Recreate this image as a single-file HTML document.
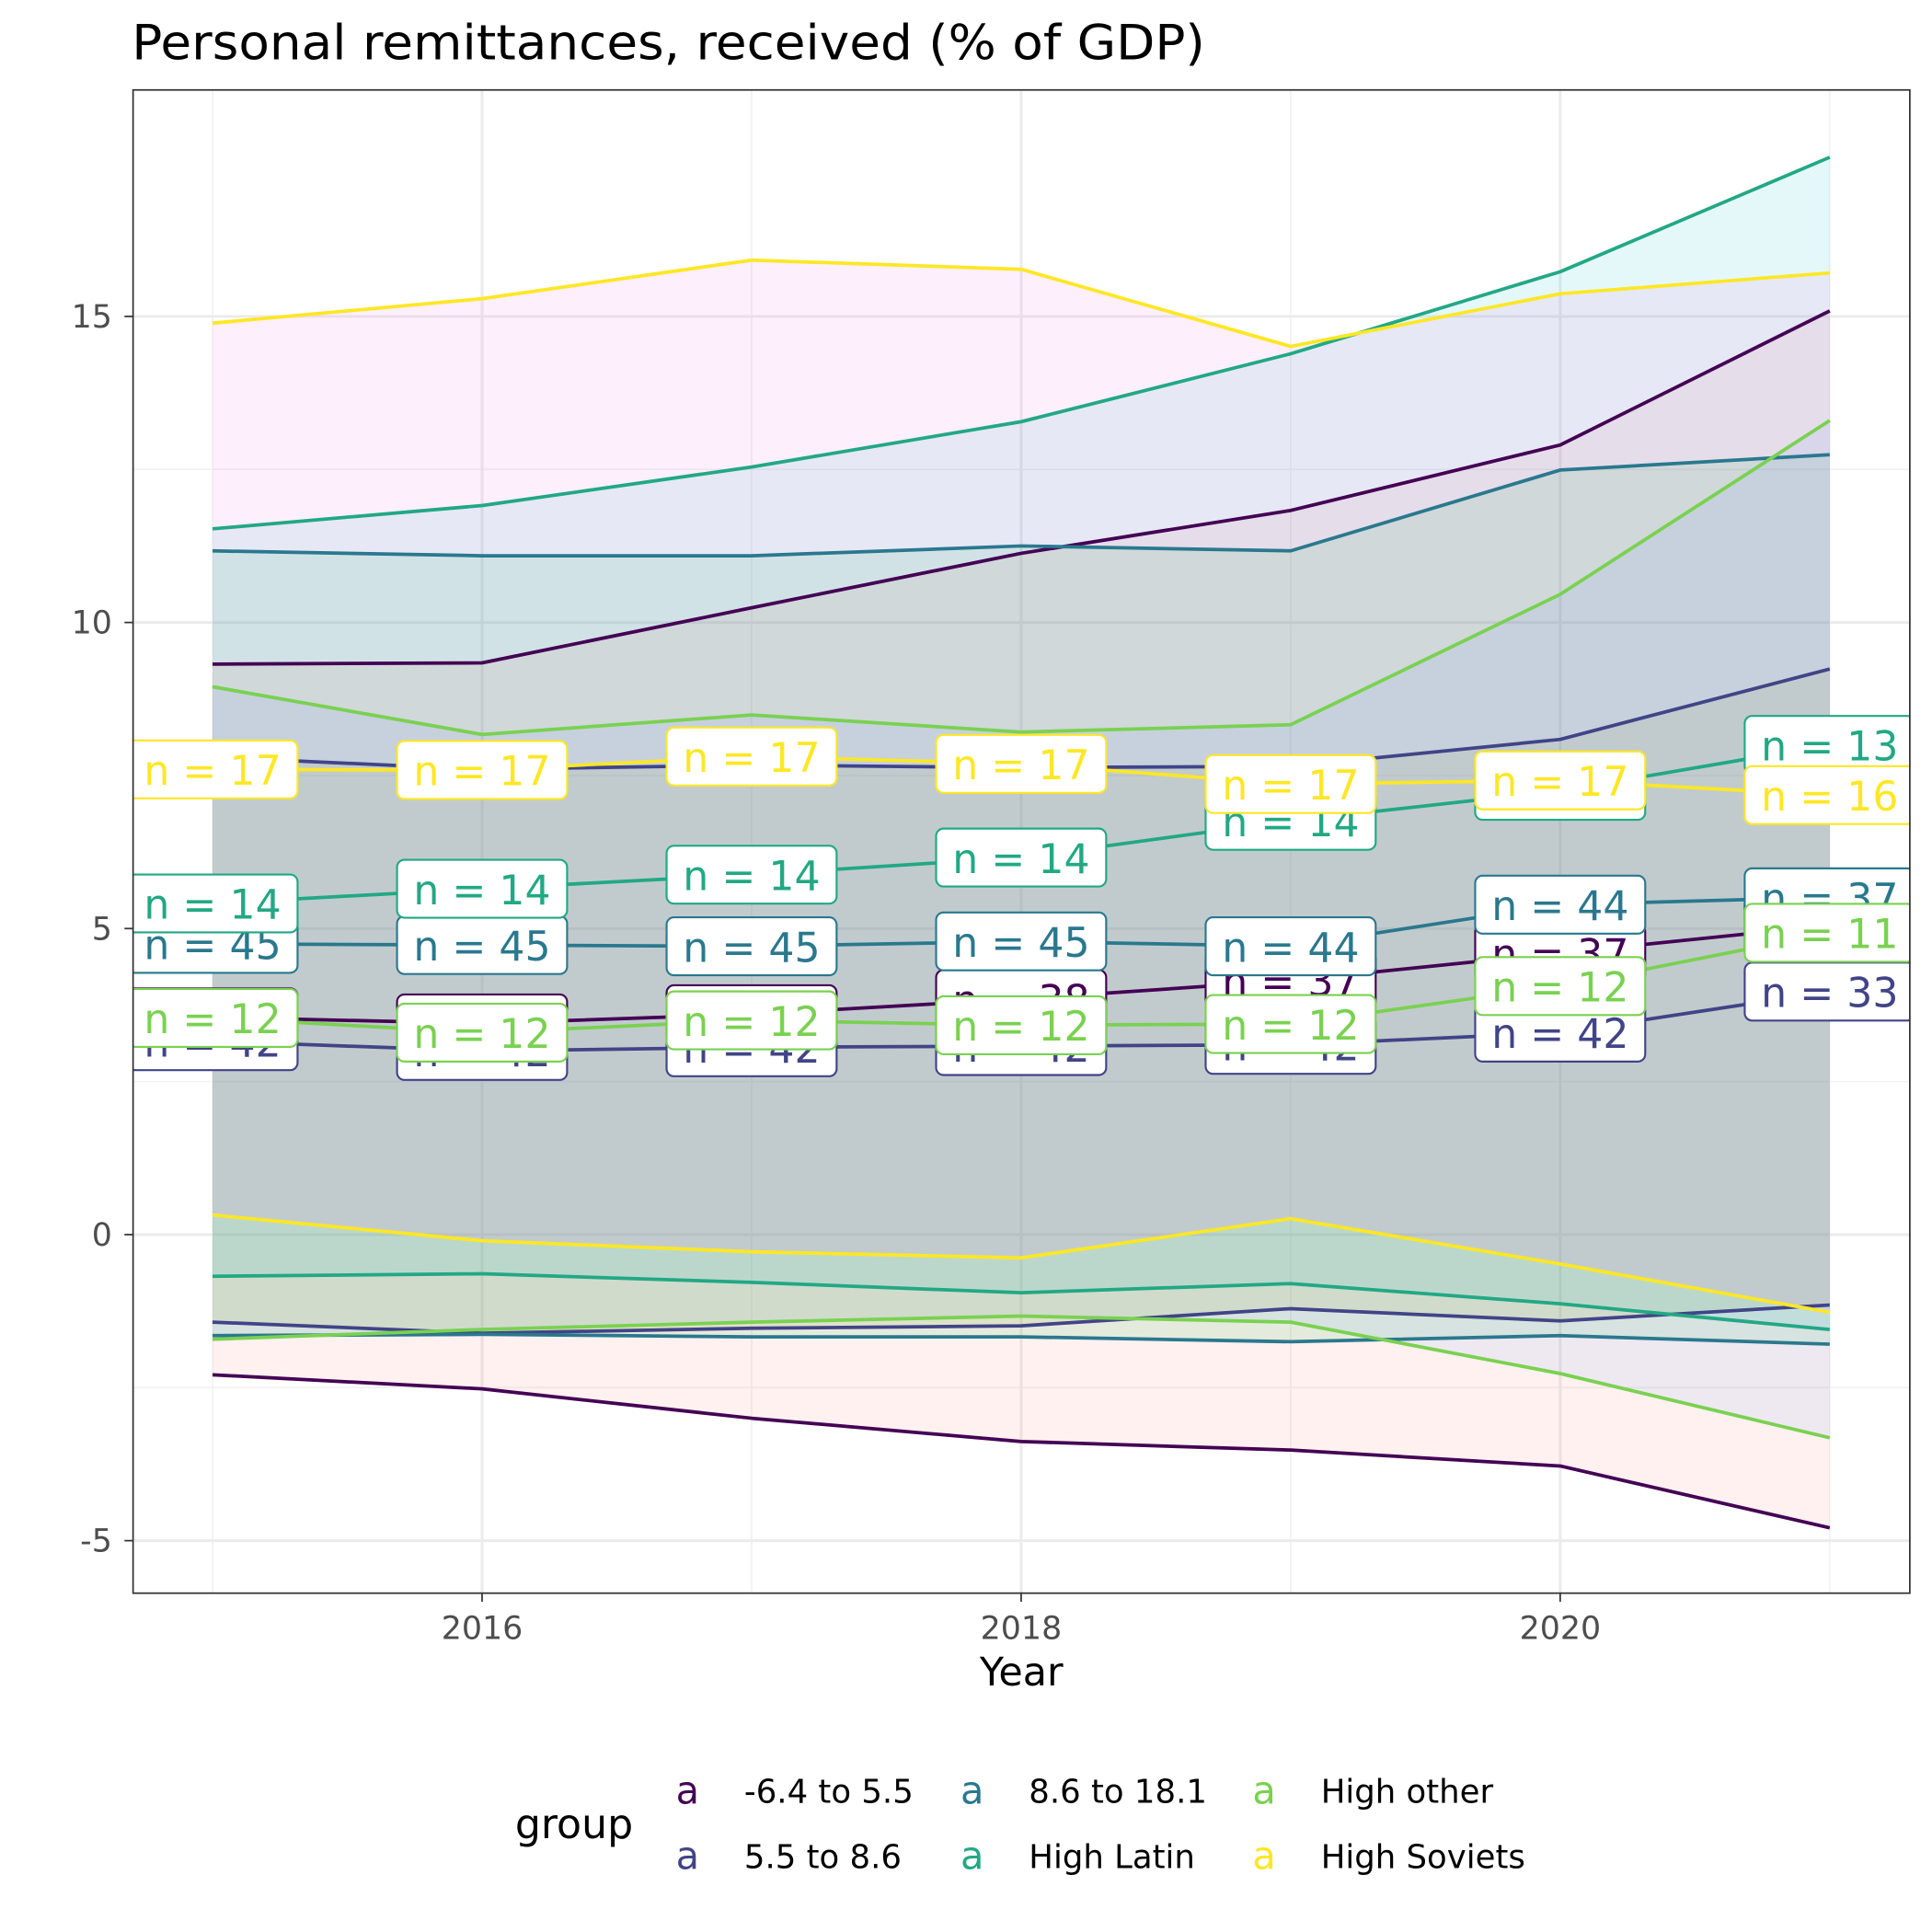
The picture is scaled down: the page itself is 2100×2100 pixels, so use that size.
<!DOCTYPE html>
<html><head><meta charset="utf-8"><style>
html,body{margin:0;padding:0;background:#fff}
svg{display:block;font-family:"DejaVu Sans","Liberation Sans",sans-serif}
</style></head><body>
<svg id="chart" width="2100" height="2100" viewBox="0 0 1568 1568" xmlns="http://www.w3.org/2000/svg">
<defs><clipPath id="pclip"><rect x="108" y="73" width="1442" height="1220"/></clipPath></defs>
<rect width="1568" height="1568" fill="#fff"/>
<text x="107" y="48" font-size="39" textLength="871" lengthAdjust="spacingAndGlyphs" fill="#000">Personal remittances, received (% of GDP)</text>
<g id="grid"></g>
<g id="plot" clip-path="url(#pclip)"></g>
<rect x="108" y="73" width="1442" height="1220" fill="none" stroke="#333" stroke-width="1.3"/>
<g id="axes"></g>
<text x="829" y="1368" font-size="32" text-anchor="middle" fill="#000">Year</text>
<g id="legend">
<text x="418" y="1492" font-size="33" fill="#000">group</text>
</g>
</svg>
<script>
const years = [2015, 2016, 2017, 2018, 2019, 2020, 2021];
const groups = ["-6.4 to 5.5", "5.5 to 8.6", "8.6 to 18.1", "High Latin", "High other", "High Soviets"];
const lineColors = ["#440154", "#414487", "#2A788E", "#22A884", "#7AD151", "#FDE725"];
const fillColors = ["#F8766D", "#B79F00", "#00BA38", "#00BFC4", "#619CFF", "#F564E3"];
const upperG1 = [9.32, 9.34, 10.24, 11.13, 11.83, 12.9, 15.09];
const upperG2 = [7.8, 7.6, 7.67, 7.63, 7.65, 8.09, 9.24];
const upperG3 = [11.17, 11.09, 11.09, 11.25, 11.17, 12.49, 12.74];
const upperLatin = [11.53, 11.91, 12.54, 13.28, 14.39, 15.73, 17.6];
const upperOther = [8.95, 8.17, 8.49, 8.21, 8.33, 10.46, 13.3];
const upperSoviets = [14.89, 15.29, 15.92, 15.77, 14.51, 15.37, 15.71];
const medianG1 = [3.55, 3.45, 3.6, 3.85, 4.15, 4.6, 5.05];
const medianG2 = [3.16, 3.0, 3.06, 3.08, 3.1, 3.3, 3.97];
const medianG3 = [4.75, 4.73, 4.71, 4.79, 4.71, 5.39, 5.51];
const medianLatin = [5.41, 5.65, 5.88, 6.16, 6.76, 7.25, 8.0];
const medianOther = [3.54, 3.3, 3.5, 3.42, 3.44, 4.06, 4.93];
const medianSoviets = [7.6, 7.59, 7.81, 7.69, 7.36, 7.42, 7.18];
const lowerG1 = [-2.29, -2.52, -3.0, -3.38, -3.52, -3.78, -4.79];
const lowerG2 = [-1.43, -1.61, -1.53, -1.49, -1.21, -1.41, -1.15];
const lowerG3 = [-1.65, -1.63, -1.67, -1.67, -1.75, -1.65, -1.79];
const lowerLatin = [-0.68, -0.64, -0.78, -0.95, -0.8, -1.13, -1.55];
const lowerOther = [-1.71, -1.55, -1.43, -1.33, -1.43, -2.27, -3.32];
const lowerSoviets = [0.32, -0.1, -0.28, -0.38, 0.26, -0.48, -1.27];
const countG1 = [38, 38, 38, 38, 37, 37, 37];
const countG2 = [42, 42, 42, 42, 42, 42, 33];
const countG3 = [45, 45, 45, 45, 44, 44, 37];
const countLatin = [14, 14, 14, 14, 14, 14, 13];
const countOther = [12, 12, 12, 12, 12, 12, 11];
const countSoviets = [17, 17, 17, 17, 17, 17, 16];
const xTicks = [2016, 2018, 2020];
const xMinor = [2015, 2017, 2019, 2021];
const yTicks = [-5, 0, 5, 10, 15];
const yMinor = [-2.5, 2.5, 7.5, 12.5];
const yTickLabels = ["-5", "0", "5", "10", "15"];

const uppers = [upperG1, upperG2, upperG3, upperLatin, upperOther, upperSoviets];
const medians = [medianG1, medianG2, medianG3, medianLatin, medianOther, medianSoviets];
const lowers = [lowerG1, lowerG2, lowerG3, lowerLatin, lowerOther, lowerSoviets];
const counts = [countG1, countG2, countG3, countLatin, countOther, countSoviets];

const NS = "http://www.w3.org/2000/svg";
const X = v => 172.5 + (v - 2015) * 218.75;
const Y = v => 1002 - v * 49.68;
function mk(tag, attrs, parent) {
  const e = document.createElementNS(NS, tag);
  for (const k in attrs) e.setAttribute(k, attrs[k]);
  parent.appendChild(e);
  return e;
}
const grid = document.getElementById("grid");
const plot = document.getElementById("plot");
const axes = document.getElementById("axes");
const legend = document.getElementById("legend");

yMinor.forEach(v => {
  const l = mk("line", {x1: 108, x2: 1550, y1: Y(v), y2: Y(v), stroke: "#f1f1f1", "stroke-width": 1.2}, grid);
  
  
});
xMinor.forEach(v => {
  const l = mk("line", {x1: X(v), x2: X(v), y1: 73, y2: 1293, stroke: "#f1f1f1", "stroke-width": 1.2}, grid);
  
  
});
yTicks.forEach((v, i) => {
  const l = mk("line", {x1: 108, x2: 1550, y1: Y(v), y2: Y(v), stroke: "#ebebeb", "stroke-width": 2.2}, grid);
  
  
  const t = mk("line", {x1: 101, x2: 108, y1: Y(v), y2: Y(v), stroke: "#333", "stroke-width": 1.3}, axes);
  
  
  const tx = mk("text", {x: 91, y: Y(v) + 9, "font-size": 26, "text-anchor": "end", fill: "#4d4d4d"}, axes);
  tx.textContent = yTickLabels[i];
  
  
});
xTicks.forEach(v => {
  const l = mk("line", {x1: X(v), x2: X(v), y1: 73, y2: 1293, stroke: "#ebebeb", "stroke-width": 2.2}, grid);
  
  
  const t = mk("line", {x1: X(v), x2: X(v), y1: 1293, y2: 1300, stroke: "#333", "stroke-width": 1.3}, axes);
  
  
  const tx = mk("text", {x: X(v), y: 1330, "font-size": 26, "text-anchor": "middle", fill: "#4d4d4d"}, axes);
  tx.textContent = String(v);
  
  
});

groups.forEach((g, gi) => {
  let d = "";
  years.forEach((yr, i) => { d += (i ? "L" : "M") + X(yr) + "," + Y(uppers[gi][i]); });
  for (let i = years.length - 1; i >= 0; i--) d += "L" + X(years[i]) + "," + Y(lowers[gi][i]);
  const p = mk("path", {d: d + "Z", fill: fillColors[gi], "fill-opacity": 0.1, stroke: "none"}, plot);
  
  
});
groups.forEach((g, gi) => {
  [uppers[gi], medians[gi], lowers[gi]].forEach((arr, k) => {
    const pts = years.map((yr, i) => X(yr) + "," + Y(arr[i])).join(" ");
    const pl = mk("polyline", {points: pts, fill: "none", stroke: lineColors[gi], "stroke-width": 2.8, "stroke-linejoin": "round"}, plot);
    
    
  });
});
groups.forEach((g, gi) => {
  years.forEach((yr, i) => {
    const cx = X(yr), cy = Y(medians[gi][i]);
    const grp = mk("g", {}, plot);
    
    
    mk("rect", {x: cx - 69, y: cy - 23.5, width: 138, height: 47, rx: 6, fill: "#fff", stroke: lineColors[gi], "stroke-width": 1.6}, grp);
    const t = mk("text", {x: cx, y: cy + 12.5, "font-size": 33, "text-anchor": "middle", fill: lineColors[gi]}, grp);
    t.textContent = "n = " + counts[gi][i];
  });
});
const legX = [558, 558, 789, 789, 1026, 1026];
const legY = [1464, 1517, 1464, 1517, 1464, 1517];
groups.forEach((g, gi) => {
  const e = mk("g", {}, legend);
  
  
  const k = mk("text", {x: legX[gi], y: legY[gi], "font-size": 31, "text-anchor": "middle", fill: lineColors[gi]}, e);
  k.textContent = "a";
  const t = mk("text", {x: legX[gi] + 46, y: legY[gi] - 1, "font-size": 26.5, fill: "#000"}, e);
  t.textContent = g;
});
</script>
</body></html>
